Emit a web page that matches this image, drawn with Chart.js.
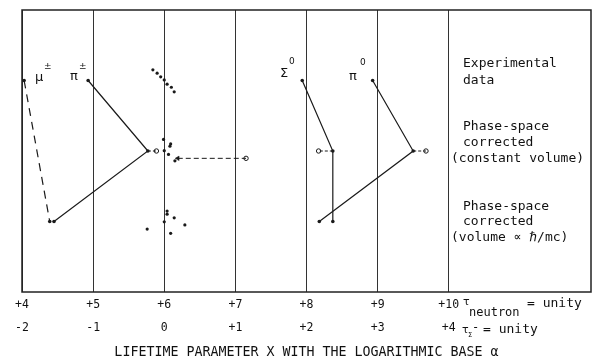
<!DOCTYPE html>
<html lang="en">
<head>
<meta charset="UTF-8" />
<title>Lifetime parameter</title>
<script src="https://cdn.jsdelivr.net/npm/chart.js"></script>
<style>
  html, body { margin: 0; padding: 0; background: #fff; }
</style>
</head>
<body>
<canvas id="lifetimeChart" width="599" height="360"></canvas>
<script>
  // rows: experimental data, phase-space (constant volume), phase-space (volume ~ hbar/mc)
  const rowY = [7.5, 5.0, 2.5];

  // particle tracks, one x per row
  const muX = [4.03, 4.39];
  const muY = [7.5, 2.5];
  const piChargedX = [4.93, 5.77, 4.45];
  const sigma0X = [7.94, 8.37, 8.37];
  const pi0X = [8.93, 9.50, 8.18];

  // open circles and the short dashed links to them
  const openX = [5.89, 8.17, 9.68, 7.15];
  const openY = [5.0, 5.0, 5.0, 4.74];
  const linkFromX = [5.77, 8.37, 9.50, 6.19];

  // small clusters around x = 6
  const expClusterX = [5.84, 5.90, 5.95, 6.00, 6.04, 6.10, 6.14];
  const expClusterY = [7.88, 7.76, 7.63, 7.52, 7.37, 7.26, 7.10];
  const constClusterX = [5.99, 6.09, 6.08, 6.00, 6.06, 6.15];
  const constClusterY = [5.41, 5.25, 5.17, 5.01, 4.88, 4.65];
  const volClusterX = [6.04, 6.04, 6.14, 6.00, 5.76, 6.29, 6.09];
  const volClusterY = [2.87, 2.76, 2.63, 2.49, 2.23, 2.38, 2.08];

  // tick labels
  const tickValues = [4, 5, 6, 7, 8, 9, 10];
  const neutronTicks = ['+4', '+5', '+6', '+7', '+8', '+9', '+10'];
  const sigmaTicks = ['-2', '-1', '0', '+1', '+2', '+3', '+4'];

  function pts(xs, ys) {
    return xs.map((x, i) => ({ x: x, y: ys[i] }));
  }

  const ink = '#1a1a1a';

  function track(xs, ys, dash) {
    return {
      data: pts(xs, ys),
      showLine: true,
      borderColor: ink,
      borderWidth: 1.2,
      borderDash: dash || [],
      pointRadius: 1.8,
      pointBackgroundColor: ink,
      pointBorderWidth: 0
    };
  }

  function link(i, dash) {
    return {
      data: [{ x: linkFromX[i], y: openY[i] }, { x: openX[i], y: openY[i] }],
      showLine: true,
      borderColor: ink,
      borderWidth: 1,
      borderDash: dash,
      pointRadius: 0
    };
  }

  function cluster(xs, ys) {
    return {
      data: pts(xs, ys),
      showLine: false,
      pointRadius: 1.6,
      pointBackgroundColor: ink,
      pointBorderWidth: 0
    };
  }

  const datasets = [
    track(muX, muY, [8, 6]),
    track(piChargedX, rowY),
    track(sigma0X, rowY),
    track(pi0X, rowY),
    link(0, [3, 2]),
    link(1, [3, 2]),
    link(2, [3, 2]),
    link(3, [5, 3]),
    {
      data: [{ x: linkFromX[3], y: openY[3] }],
      pointStyle: 'triangle',
      rotation: -90,
      pointRadius: 2.6,
      pointBackgroundColor: ink,
      pointBorderColor: ink,
      pointBorderWidth: 0.5
    },
    {
      data: pts(openX, openY),
      showLine: false,
      pointRadius: 2.2,
      pointBackgroundColor: '#fff',
      pointBorderColor: ink,
      pointBorderWidth: 1
    },
    cluster(expClusterX, expClusterY),
    cluster(constClusterX, constClusterY),
    cluster(volClusterX, volClusterY)
  ];

  const notes = {
    id: 'notes',
    afterDraw(chart) {
      const c = chart.ctx;
      const a = chart.chartArea;
      c.save();
      c.strokeStyle = '#222';
      c.lineWidth = 1.5;
      c.strokeRect(a.left, a.top, a.right - a.left, a.bottom - a.top);

      c.fillStyle = '#111';
      c.textBaseline = 'middle';
      c.textAlign = 'left';

      c.font = '13px "DejaVu Sans Mono"';
      [
        ['Experimental', 463, 64], ['data', 463, 81],
        ['Phase-space', 463, 127], ['corrected', 463, 143], ['(constant volume)', 451, 159],
        ['Phase-space', 463, 207], ['corrected', 463, 222], ['(volume \u221d \u210f/mc)', 451, 238]
      ].forEach(t => c.fillText(t[0], t[1], t[2]));

      // tau labels next to the tick rows
      c.font = '11px "DejaVu Sans"';
      c.fillText('\u03c4', 463, 302);
      c.font = '12px "DejaVu Sans Mono"';
      c.fillText('neutron', 469, 313);
      c.font = '13px "DejaVu Sans Mono"';
      c.fillText('= unity', 527, 304);

      c.font = '11px "DejaVu Sans"';
      c.fillText('\u03c4', 462, 330);
      c.font = '7px "DejaVu Sans"';
      c.fillText('\u03a3', 468, 335);
      c.font = '12px "DejaVu Sans Mono"';
      c.fillText('-', 472, 328);
      c.font = '13px "DejaVu Sans Mono"';
      c.fillText('= unity', 483, 330);

      // particle names
      c.font = '13px "DejaVu Sans"';
      c.fillText('\u03bc', 35, 78);
      c.fillText('\u03c0', 70, 77);
      c.fillText('\u03a3', 280, 74);
      c.fillText('\u03c0', 349, 77);
      c.font = '9px "DejaVu Sans"';
      c.fillText('\u00b1', 44, 67);
      c.fillText('\u00b1', 79, 67);
      c.fillText('0', 289, 62);
      c.fillText('0', 360, 63);
      c.restore();
    }
  };

  new Chart(document.getElementById('lifetimeChart'), {
    type: 'scatter',
    data: { datasets: datasets },
    plugins: [notes],
    options: {
      responsive: false,
      animation: false,
      layout: { padding: { left: 22, right: 8, top: 10, bottom: 0 } },
      plugins: { legend: { display: false }, tooltip: { enabled: false } },
      scales: {
        x: {
          type: 'linear',
          min: 4,
          max: 12,
          afterFit: (scale) => {
            scale.height = 68;
            scale.paddingLeft = 0;
            scale.paddingRight = 0;
          },
          border: { display: false },
          grid: {
            drawTicks: false,
            lineWidth: 1,
            color: (ctx) => (ctx.tick && ctx.tick.value <= 10 ? '#333' : 'rgba(0,0,0,0)')
          },
          ticks: {
            stepSize: 1,
            padding: 1,
            maxRotation: 0,
            autoSkip: false,
            color: '#111',
            font: { family: 'DejaVu Sans Mono', size: 11.5, lineHeight: 2.05 },
            callback: (value) => {
              const i = tickValues.indexOf(Math.round(value));
              return i < 0 ? '' : [neutronTicks[i], sigmaTicks[i]];
            }
          },
          title: {
            display: true,
            text: 'LIFETIME PARAMETER X WITH THE LOGARITHMIC BASE \u03b1',
            color: '#111',
            padding: { top: 0, bottom: 0 },
            font: { family: 'DejaVu Sans Mono', size: 13.3, lineHeight: 1.1 }
          }
        },
        y: {
          type: 'linear',
          min: 0,
          max: 10,
          display: false
        }
      }
    }
  });
</script>
</body>
</html>
